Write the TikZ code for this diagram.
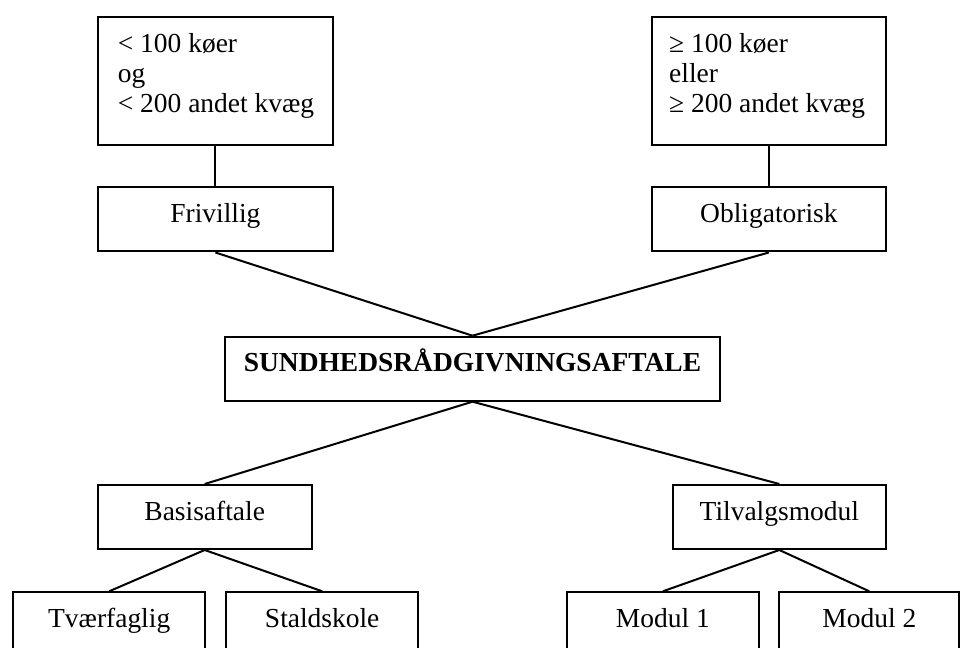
\documentclass[tikz,border=0pt]{standalone}
\usepackage{fontspec}
\setmainfont{Liberation Serif}
\tikzset{
  skrift/.style={font=\fontsize{20.6}{22.5}\selectfont},
  boks/.style={draw, skrift, inner sep=0pt, minimum height=48pt, text height=0.7em, text depth=0.25em},
  tekst/.style={skrift, inner sep=0pt, anchor=north west, align=left}
}
\begin{document}
\begin{tikzpicture}[x=0.75pt,y=-0.75pt,line width=1.5pt]
	\useasboundingbox (0,0) rectangle (960,648);
	\node[boks, minimum width=176.3pt, minimum height=96pt] (lille) at (215.4,81) {};
	\node[boks, minimum width=175.8pt, minimum height=96pt] (stor) at (768.9,81) {};
	\node[tekst] (lilletekst) at ([shift={(20,16.4)}]lille.north west) {< 100 køer\\og\\< 200 andet kvæg};
	\node[tekst] (stortekst) at ([shift={(17.5,16.4)}]stor.north west) {≥ 100 køer\\eller\\≥ 200 andet kvæg};
	\node[boks, minimum width=176.3pt] (frivillig) at (215.4,219.5) {Frivillig};
	\node[boks, minimum width=175.8pt] (obligatorisk) at (768.9,219.5) {Obligatorisk};
	\node[boks, minimum width=371.3pt, font=\fontsize{20.6}{22.5}\selectfont\bfseries] (aftale) at (472.5,368.7) {SUNDHEDSRÅDGIVNINGSAFTALE};
	\node[boks, minimum width=160.5pt] (basis) at (204.7,517) {Basisaftale};
	\node[boks, minimum width=160pt] (tilvalg) at (779.3,517) {Tilvalgsmodul};
	\node[boks, minimum width=143.8pt] (tvaer) at (109.2,624.3) {Tværfaglig};
	\node[boks, minimum width=144.2pt] (stald) at (322.2,624.3) {Staldskole};
	\node[boks, minimum width=144.2pt] (modul1) at (662.9,624.3) {Modul 1};
	\node[boks, minimum width=135pt] (modul2) at (869.3,624.3) {Modul 2};
	\draw (lille) -- (frivillig);
	\draw (stor) -- (obligatorisk);
	\draw (frivillig.south) -- (aftale.north);
	\draw (obligatorisk.south) -- (aftale.north);
	\draw (aftale.south) -- (basis.north);
	\draw (aftale.south) -- (tilvalg.north);
	\draw (basis.south) -- (tvaer.north);
	\draw (basis.south) -- (stald.north);
	\draw (tilvalg.south) -- (modul1.north);
	\draw (tilvalg.south) -- (modul2.north);
\end{tikzpicture}
\end{document}
